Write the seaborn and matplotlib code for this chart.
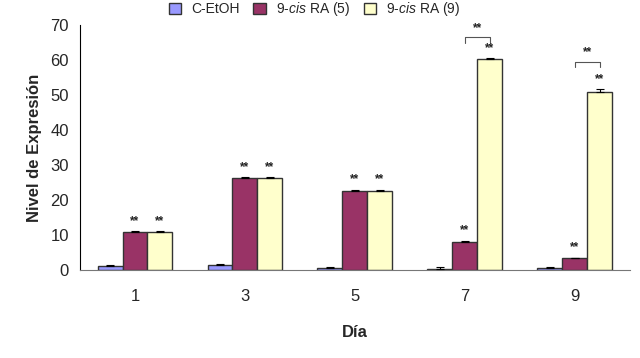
import matplotlib
matplotlib.use("Agg")
import matplotlib.pyplot as plt
import seaborn as sns
import pandas as pd
import numpy as np
from matplotlib.ticker import FixedLocator

days = ["1", "3", "5", "7", "9"]
series = ["C-EtOH", "9-$\\it{cis}$ RA (5)", "9-$\\it{cis}$ RA (9)"]
v_etoh = [1.0, 1.3, 0.6, 0.3, 0.6]
v_ra5 = [10.8, 26.2, 22.5, 8.0, 3.3]
v_ra9 = [10.8, 26.2, 22.5, 60.2, 51.0]
e_etoh = [0.3, 0.3, 0.2, 0.6, 0.2]
e_ra5 = [0.2, 0.3, 0.3, 0.3, 0.2]
e_ra9 = [0.2, 0.3, 0.3, 0.3, 0.6]
stars_ra5 = ["**", "**", "**", "**", "**"]
stars_ra9 = ["**", "**", "**", "**", "**"]
bracket_days = ["7", "9"]
bracket_levels = [66.5, 59.5]
colors = ["#9999FF", "#993366", "#FFFFCC"]

sns.set_style("white")
plt.rcParams['font.family'] = ['Liberation Sans', 'DejaVu Sans']
plt.rcParams['mathtext.fontset'] = 'custom'
plt.rcParams['mathtext.it'] = 'Liberation Sans:italic'
plt.rcParams['mathtext.rm'] = 'Liberation Sans'

rows = []
for s, vals, errs in zip(series, [v_etoh, v_ra5, v_ra9], [e_etoh, e_ra5, e_ra9]):
    for d, v, e in zip(days, vals, errs):
        rows.append({"Día": d, "serie": s, "valor": v, "err": e})
df = pd.DataFrame(rows)

fig = plt.figure(figsize=(6.4, 3.58), dpi=100)
ax = fig.add_axes([0.125, 0.246, 0.859, 0.684])
sns.barplot(data=df, x="Día", y="valor", hue="serie", hue_order=series,
            order=days, palette=colors, width=0.68, errorbar=None,
            edgecolor="#333333", linewidth=1.0, ax=ax, saturation=1)

centers = {}
for si, (cont, errs) in enumerate(zip(ax.containers, [e_etoh, e_ra5, e_ra9])):
    for di, (bar, e) in enumerate(zip(cont, errs)):
        cx = bar.get_x() + bar.get_width() / 2
        h = bar.get_height()
        centers[(si, di)] = (cx, h)
        ax.errorbar(cx, h, yerr=[[0], [e]], fmt="none", ecolor="black",
                    elinewidth=0.8, capsize=3, capthick=0.8, zorder=5)
for si, stars in [(1, stars_ra5), (2, stars_ra9)]:
    errs = [e_etoh, e_ra5, e_ra9][si]
    for di, st in enumerate(stars):
        cx, h = centers[(si, di)]
        ax.text(cx, h + errs[di] + 1.3, st, ha="center", va="bottom",
                fontsize=8.5, fontweight="bold", color="#222222")

for d, lvl in zip(bracket_days, bracket_levels):
    di = days.index(d)
    x1, _ = centers[(1, di)]
    x2, _ = centers[(2, di)]
    ax.plot([x1, x1, x2, x2], [lvl - 1.5, lvl, lvl, lvl - 1.5],
            color="#555555", lw=0.8, clip_on=False)
    ax.text((x1 + x2) / 2, lvl + 1.0, "**", ha="center", va="bottom",
            fontsize=8.5, fontweight="bold", color="#222222")

ax.set_ylim(0, 70)
ax.set_yticks(range(0, 71, 10))
ax.set_xlim(-0.5, len(days) - 0.5)
ax.xaxis.set_major_locator(FixedLocator(np.arange(-0.5, len(days), 1.0)))
ax.set_xticklabels([])
ax.xaxis.set_minor_locator(FixedLocator(np.arange(len(days))))
ax.set_xticklabels(days, minor=True)
ax.tick_params(axis="x", which="major", direction="out", length=5, width=0.8, color="#555555")
ax.tick_params(axis="x", which="minor", length=0, pad=14, labelsize=12)
ax.tick_params(axis="y", direction="out", length=5, width=0.8, labelsize=12, pad=3)
for sp in ["top", "right"]:
    ax.spines[sp].set_visible(False)
ax.spines["left"].set_color("black")
ax.spines["bottom"].set_color("#777777")
ax.set_ylabel("Nivel de Expresión", fontsize=12, fontweight="bold", labelpad=6)
ax.set_xlabel("Día", fontsize=12, fontweight="bold", labelpad=15)

leg = ax.legend(loc="lower center", bbox_to_anchor=(0.427, 1.0), ncol=3, frameon=False,
                prop={"size": 10}, handlelength=0.9,
                handleheight=0.9, columnspacing=1.0, handletextpad=0.7, borderaxespad=0.1)

fig.savefig("out.png", dpi=100, facecolor="white")
